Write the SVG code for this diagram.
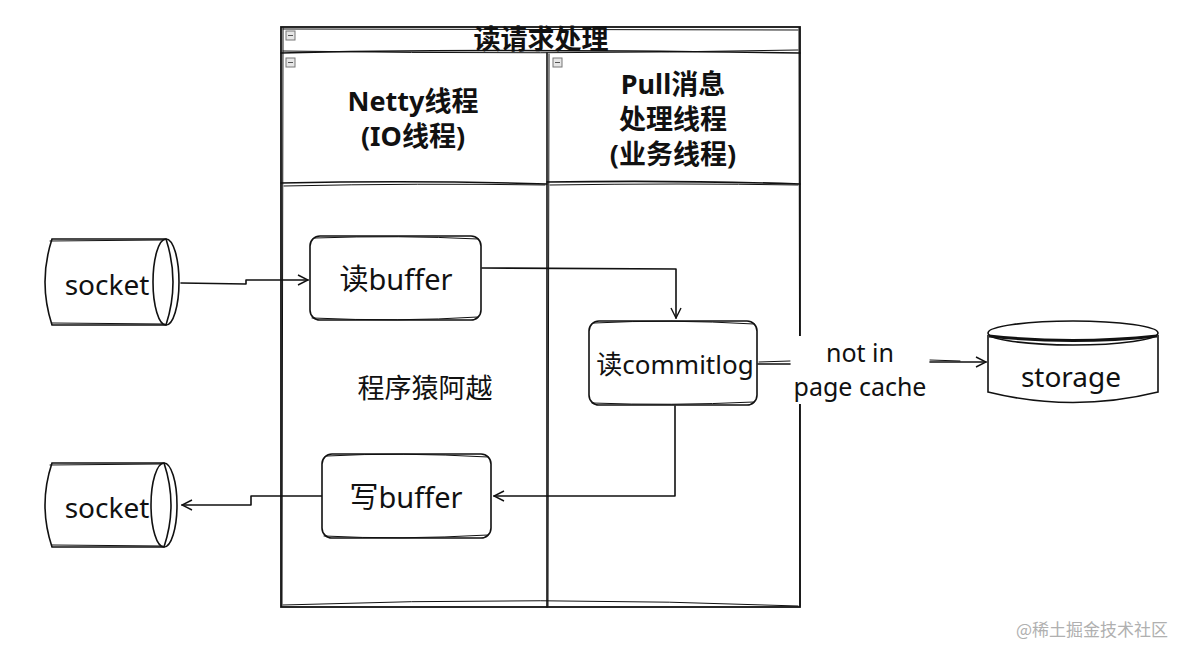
<svg xmlns="http://www.w3.org/2000/svg" width="1178" height="646" viewBox="0 0 1178 646">
<defs>
<style>
.ln{fill:none;stroke:#111;stroke-width:1.6;stroke-linecap:round;stroke-linejoin:round}
.ln2{fill:none;stroke:#111;stroke-width:1;stroke-linecap:round;stroke-linejoin:round}
.box{fill:#fff;stroke:#111;stroke-width:1.6}
.t{font-family:"Noto Sans","Noto Sans CJK SC",sans-serif;font-size:27px;fill:#111;text-anchor:middle}
.h{font-family:"Noto Sans","Noto Sans CJK SC",sans-serif;font-size:27px;font-weight:bold;fill:#111;text-anchor:middle}
.icon{fill:#e6e6e6;stroke:#777;stroke-width:1}
</style>
<marker id="arr" viewBox="0 0 12 12" refX="11" refY="6" markerWidth="12" markerHeight="12" markerUnits="userSpaceOnUse" orient="auto">
<path d="M1,1 L11,6 L1,11" fill="none" stroke="#111" stroke-width="1.4"/>
</marker>
</defs>
<rect width="1178" height="646" fill="#fff"/>

<g id="container">
<rect x="281" y="27" width="519" height="580" fill="#fff" stroke="#111" stroke-width="1.8"/>
<path class="ln2" d="M283,29 L798,30 M283,605 Q540,596 798,606 M283,28 L282,606 M799,28 L800,606"/>
<path class="ln" d="M281,53 Q450,48 800,53"/>
<path class="ln2" d="M283,51 Q540,55 798,50"/>
<path class="ln" d="M547,53 L547,607"/>
<path class="ln2" d="M549,54 L548,606"/>
<path class="ln" d="M281,183 Q420,180 547,184 M547,182 Q680,180 800,184"/>
<path class="ln2" d="M284,186 Q420,183 545,185 M550,185 Q680,183 798,185"/>
<rect class="icon" x="286" y="31" width="9" height="9"/><path d="M288,35.5 H293" stroke="#555"/>
<rect class="icon" x="286" y="58" width="9" height="9"/><path d="M288,62.5 H293" stroke="#555"/>
<rect class="icon" x="553" y="58" width="9" height="9"/><path d="M555,62.5 H560" stroke="#555"/>
<text class="h" x="541" y="49" style="font-size:27px">读请求处理</text>
<text class="h" x="413" y="111">Netty线程</text>
<text class="h" x="413" y="146">(IO线程)</text>
<text class="h" x="673" y="94">Pull消息</text>
<text class="h" x="673" y="129">处理线程</text>
<text class="h" x="673" y="164">(业务线程)</text>
</g>

<g id="connectors">
<path class="ln" d="M181,283 L246,284 L246,280 L308,280" marker-end="url(#arr)"/>
<path class="ln" d="M482,268 L676,269 L676,318" marker-end="url(#arr)"/>
<path class="ln" d="M675,406 L675,496 L494,496" marker-end="url(#arr)"/>
<path class="ln" d="M322,496 L251,496 L251,505 L182,505" marker-end="url(#arr)"/>
<rect x="790" y="336" width="140" height="68" fill="#fff"/>
<path class="ln" d="M758,364 L790,364"/>
<path class="ln" d="M930,362 L986,362" marker-end="url(#arr)"/>
<path class="ln2" d="M759,362 L790,361 M930,360 L960,361"/>
<text class="t" x="860" y="362" style="font-size:25px">not in</text>
<text class="t" x="860" y="396" style="font-size:25px">page cache</text>
</g>

<g id="socket-in">
<path class="box" d="M52,239 L166,239 Q180,282 166,325 L52,325 Q38,282 52,239 Z"/>
<ellipse cx="166" cy="282" rx="13" ry="43" fill="none" stroke="#111" stroke-width="1.6"/>
<path class="ln2" d="M50,241 L164,240 M52,323 L165,324"/>
<text class="t" x="107" y="295" style="font-size:28px">socket</text>
</g>

<g id="read-buffer">
<rect class="box" x="310" y="236" width="171" height="84" rx="10"/>
<path class="ln2" d="M315,238 Q400,235 478,239 M312,318 Q400,322 478,317"/>
<text class="t" x="396" y="290" style="font-size:29px">读buffer</text>
</g>

<g id="read-commitlog">
<rect class="box" x="589" y="321" width="168" height="84" rx="10"/>
<path class="ln2" d="M594,323 Q670,319 754,324 M592,403 Q670,406 754,402"/>
<text class="t" x="675" y="374" style="font-size:26px">读commitlog</text>
</g>

<g id="storage">
<path class="box" d="M988,335 L988,392 Q1073,413 1158,392 L1158,335"/>
<ellipse cx="1073" cy="333" rx="85" ry="12" fill="#fff" stroke="#111" stroke-width="1.6"/>
<path d="M989,336 Q1073,345 1157,336" fill="none" stroke="#111" stroke-width="3"/>
<text class="t" x="1071" y="387" style="font-size:28px">storage</text>
</g>

<g id="write-buffer">
<rect class="box" x="322" y="454" width="169" height="84" rx="10"/>
<path class="ln2" d="M327,456 Q400,452 488,457 M324,536 Q400,540 488,535"/>
<text class="t" x="406" y="508" style="font-size:29px">写buffer</text>
</g>

<g id="socket-out">
<path class="box" d="M52,463 L164,463 Q178,505 164,547 L52,547 Q38,505 52,463 Z"/>
<ellipse cx="164" cy="505" rx="13" ry="42" fill="none" stroke="#111" stroke-width="1.6"/>
<path class="ln2" d="M50,465 L162,464 M52,545 L163,546"/>
<text class="t" x="107" y="518" style="font-size:28px">socket</text>
</g>

<text class="t" x="425" y="398" style="font-size:27px">程序猿阿越</text>
<text x="1092" y="636" style="font-family:'Noto Sans CJK SC',sans-serif;font-size:17px;fill:#b0b0b0;text-anchor:middle">@稀土掘金技术社区</text>
</svg>
